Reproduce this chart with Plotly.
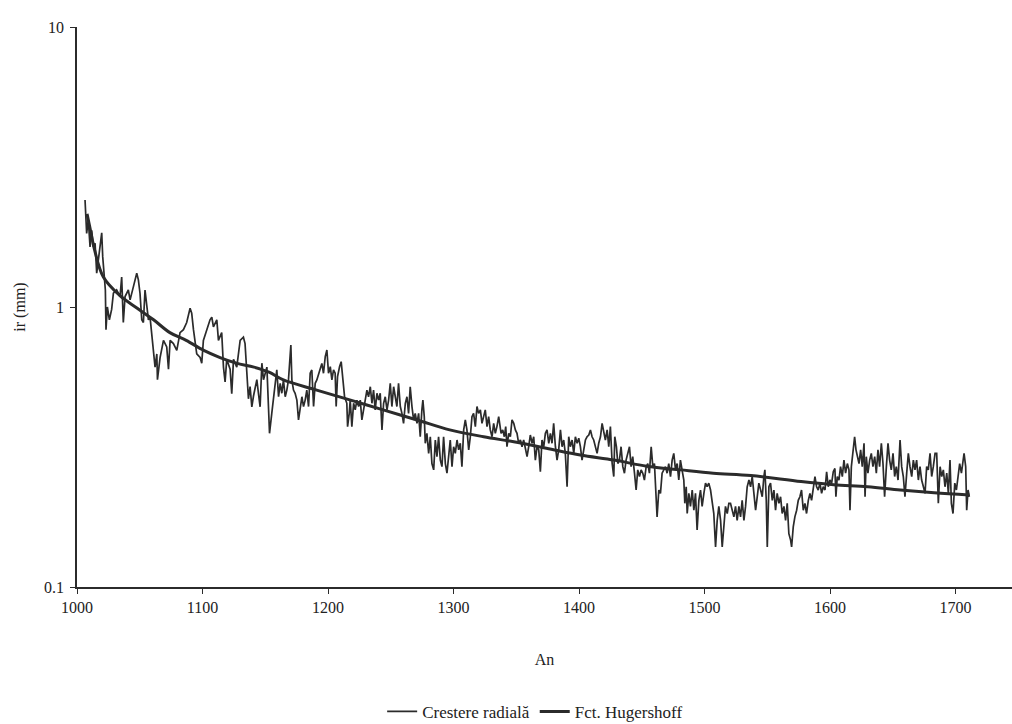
import plotly.graph_objects as go

# ---- Ring-width series (Crestere radiala), in four spans ----
years_1 = [1006.4,1007.7,1009.0,1010.4,1011.7,1013.0,1014.4,1015.7,1017.0,1019.7,
           1020.5,1021.8,1022.6,1023.1,1024.2,1025.8,1027.6,1029.0,1031.6,1034.3,
           1035.6,1036.9,1038.3,1040.9,1042.3,1044.9,1047.6,1048.9,1050.2,1051.6,
           1052.9,1054.2,1055.6,1056.9,1058.2,1059.5,1060.9,1062.2,1063.6,1064.1,
           1066.2,1068.9,1071.5,1072.9,1074.2,1076.8,1079.5,1082.1,1084.8,1087.4,
           1090.1,1091.4,1092.8,1095.4,1098.1,1099.4,1100.7,1103.4,1106.0,1107.4,
           1108.7,1111.4,1112.7,1115.3,1116.7,1118.0,1119.3,1122.0,1123.3,1124.7,
           1127.3,1130.0,1132.6,1133.9,1135.3,1136.6,1137.9,1139.3,1140.6,1143.3,
           1144.6,1145.9,1147.3,1148.6,1151.3]
ring_1 = [2.41,1.83,2.05,1.64,1.88,1.64,1.69,1.32,1.47,1.84,
          1.51,1.25,1.15,0.83,1.00,0.90,0.98,1.12,1.15,1.09,
          1.28,0.88,1.09,1.15,1.06,1.18,1.32,1.25,1.12,0.90,
          0.88,1.15,0.98,0.90,0.92,0.81,0.72,0.61,0.68,0.55,
          0.66,0.76,0.72,0.60,0.76,0.74,0.70,0.81,0.83,0.88,
          0.99,0.95,0.83,0.68,0.66,0.63,0.76,0.83,0.90,0.92,
          0.85,0.90,0.76,0.81,0.61,0.54,0.65,0.60,0.49,0.65,
          0.61,0.76,0.78,0.74,0.55,0.47,0.52,0.44,0.48,0.55,
          0.49,0.44,0.63,0.55,0.61]

years_2 = [1153.4,1155.2,1156.6,1157.9,1159.2,1160.6,1161.9,1163.2,1164.5,1165.9,
           1167.2,1168.5,1170.4,1171.2,1172.5,1173.8,1175.2,1176.5,1177.8,1179.2,
           1180.5,1181.8,1183.1,1184.5,1185.8,1187.1,1188.5,1189.8,1191.1,1192.5,
           1193.8,1195.1,1196.4,1197.8,1199.1,1200.4,1201.8,1203.1,1204.4,1205.7,
           1206.5,1207.6,1209.2,1210.5,1211.9,1213.2,1215.0,1215.6,1216.9,1217.7,
           1219.0,1220.4,1221.7,1223.0,1224.4,1225.7,1227.0,1228.3,1229.7,1231.0,
           1232.3,1233.7,1235.0,1236.3,1237.6,1239.0,1240.3,1241.6,1243.0,1244.3,
           1245.6,1247.0,1248.3,1249.6,1250.9,1252.3,1253.6,1254.9,1256.2,1257.6,
           1258.9,1260.2,1261.6,1262.9,1264.2,1265.5,1266.9,1268.2,1269.5,1270.9,
           1272.2,1273.5,1274.8,1275.6,1276.7,1277.5,1278.8,1280.2,1281.5,1282.8,
           1284.2,1285.5,1286.8,1288.1,1289.5,1290.8,1292.1,1293.5,1294.8,1296.1,
           1297.4,1298.8,1300.1,1301.4,1302.8,1304.1,1305.4,1306.7,1308.1,1309.4,
           1310.7,1312.1,1313.4,1314.7,1316.0,1317.4,1318.7,1320.0,1321.4,1322.7,
           1324.0,1325.3,1326.7,1328.0,1329.3,1330.7,1332.0,1333.3,1334.6,1336.0]
ring_2 = [0.354,0.417,0.478,0.519,0.596,0.478,0.534,0.492,0.549,0.478,
          0.505,0.549,0.732,0.549,0.505,0.492,0.465,0.395,0.441,0.478,
          0.441,0.465,0.505,0.441,0.580,0.596,0.441,0.534,0.549,0.580,
          0.612,0.629,0.580,0.665,0.702,0.580,0.612,0.549,0.596,0.580,
          0.441,0.564,0.612,0.638,0.549,0.478,0.453,0.374,0.417,0.465,
          0.374,0.453,0.429,0.465,0.441,0.465,0.395,0.429,0.465,0.505,
          0.478,0.519,0.453,0.505,0.429,0.492,0.465,0.492,0.364,0.453,
          0.478,0.429,0.465,0.534,0.441,0.519,0.478,0.441,0.534,0.441,
          0.417,0.384,0.453,0.478,0.417,0.519,0.441,0.395,0.417,0.384,
          0.417,0.344,0.429,0.465,0.406,0.326,0.354,0.300,0.344,0.276,
          0.262,0.335,0.292,0.344,0.284,0.269,0.344,0.276,0.255,0.292,
          0.335,0.269,0.317,0.300,0.335,0.309,0.326,0.269,0.364,0.395,
          0.364,0.309,0.344,0.406,0.417,0.374,0.441,0.417,0.429,0.384,
          0.406,0.429,0.374,0.406,0.364,0.344,0.384,0.354,0.374,0.406]

years_3 = [1337.9,1339.2,1340.5,1341.6,1342.6,1344.0,1345.3,1346.6,1348.0,1349.3,
           1350.6,1351.9,1353.3,1354.6,1355.9,1357.3,1358.6,1359.9,1361.2,1362.6,
           1363.9,1365.2,1366.6,1367.9,1369.2,1370.5,1371.9,1373.2,1374.5,1375.9,
           1377.2,1378.5,1379.8,1381.2,1382.5,1383.8,1385.2,1386.5,1387.8,1389.1,
           1390.5,1391.8,1393.1,1394.5,1395.8,1397.1,1398.5,1399.8,1401.1,1402.4,
           1403.8,1405.1,1406.4,1407.8,1409.1,1410.4,1411.7,1413.1,1414.4,1415.7,
           1417.1,1418.4,1419.7,1421.0,1422.4,1423.7,1425.0,1426.4,1427.7,1428.5,
           1429.8,1430.9,1432.2,1433.5,1434.9,1436.2,1437.5,1438.9,1440.2,1441.5,
           1442.8,1444.2,1445.5,1446.8,1448.2,1449.5,1450.8,1452.1,1453.5,1454.8,
           1456.1,1457.5,1458.8,1460.1,1461.4,1462.2,1463.6,1464.9,1466.2,1467.6,
           1468.9,1470.2,1471.5,1472.9,1474.2,1475.5,1476.9,1478.2,1479.5,1480.8,
           1482.2,1483.5,1484.3,1485.4,1486.2,1487.5,1488.8,1490.2,1491.5,1492.8,
           1494.1,1495.5,1496.8,1498.1,1499.5,1500.8,1502.1,1503.4,1504.8,1506.1,
           1507.4,1508.8,1510.1,1511.4,1512.8,1514.1,1515.4,1516.7,1518.1,1519.4]
ring_3 = [0.354,0.364,0.344,0.374,0.317,0.354,0.344,0.395,0.384,0.364,
          0.354,0.326,0.335,0.317,0.335,0.309,0.292,0.317,0.349,0.326,
          0.344,0.284,0.317,0.309,0.258,0.335,0.317,0.354,0.364,0.326,
          0.354,0.326,0.384,0.317,0.284,0.309,0.364,0.317,0.335,0.300,
          0.228,0.344,0.317,0.335,0.300,0.344,0.326,0.340,0.317,0.284,
          0.317,0.335,0.344,0.349,0.364,0.344,0.335,0.317,0.300,0.326,
          0.344,0.384,0.354,0.335,0.364,0.317,0.374,0.276,0.248,0.344,
          0.317,0.276,0.284,0.317,0.269,0.255,0.284,0.300,0.317,0.269,
          0.292,0.255,0.222,0.262,0.248,0.262,0.255,0.241,0.269,0.276,
          0.255,0.317,0.269,0.276,0.216,0.178,0.222,0.216,0.255,0.262,
          0.269,0.255,0.276,0.248,0.284,0.300,0.262,0.276,0.241,0.284,
          0.262,0.241,0.199,0.228,0.183,0.216,0.194,0.222,0.188,0.216,
          0.160,0.204,0.222,0.194,0.216,0.235,0.228,0.235,0.222,0.204,
          0.183,0.139,0.173,0.194,0.173,0.139,0.164,0.194,0.183,0.199]

years_4 = [1520.7,1522.1,1523.4,1524.7,1526.0,1527.4,1528.7,1530.0,1531.4,1532.7,
           1534.0,1535.4,1536.7,1538.0,1539.3,1540.7,1542.0,1543.3,1544.7,1546.0,
           1547.3,1548.1,1549.2,1550.0,1551.3,1552.6,1554.0,1555.3,1556.6,1557.9,
           1559.3,1560.6,1561.9,1563.3,1564.6,1565.9,1567.2,1568.6,1569.4,1570.7,
           1572.0,1573.4,1574.7,1576.0,1577.3,1578.7,1580.0,1581.3,1582.7,1584.0,
           1585.3,1586.7,1588.0,1589.3,1590.6,1592.0,1593.3,1594.6,1596.0,1597.3,
           1598.6,1599.9,1601.3,1602.6,1603.9,1604.7,1605.8,1607.1,1608.4,1609.8,
           1611.1,1612.4,1613.8,1615.1,1615.9,1617.0,1618.3,1619.6,1620.7,1621.7,
           1623.1,1624.4,1625.7,1627.1,1627.9,1628.9,1630.2,1631.6,1632.9,1634.2,
           1635.6,1636.9,1638.2,1639.5,1640.9,1642.2,1643.5,1644.9,1646.2,1647.5,
           1648.8,1650.2,1651.5,1652.8,1654.2,1655.8,1657.1,1658.4,1659.7,1661.1,
           1662.4,1663.7,1665.1,1666.4,1667.7,1669.0,1670.4,1671.7,1673.0,1674.4,
           1675.7,1677.0,1678.3,1679.7,1681.0,1682.3,1683.7,1685.0,1686.3,1687.7,
           1689.0,1690.3,1691.6,1693.0,1694.3,1695.6,1696.7,1698.0,1699.4,1700.7,
           1702.0,1703.3,1704.7,1706.0,1706.8,1708.1,1708.9,1710.0,1711.0]
ring_4 = [0.199,0.188,0.178,0.194,0.173,0.194,0.178,0.204,0.173,0.194,
          0.228,0.241,0.228,0.248,0.222,0.188,0.210,0.235,0.222,0.210,
          0.248,0.262,0.204,0.139,0.228,0.235,0.204,0.222,0.188,0.216,
          0.199,0.210,0.183,0.194,0.173,0.199,0.155,0.147,0.139,0.164,
          0.178,0.188,0.204,0.210,0.222,0.188,0.199,0.183,0.204,0.216,
          0.204,0.228,0.248,0.228,0.222,0.235,0.216,0.228,0.222,0.258,
          0.228,0.241,0.235,0.258,0.265,0.210,0.248,0.241,0.269,0.248,
          0.284,0.255,0.276,0.262,0.188,0.269,0.300,0.344,0.309,0.292,
          0.276,0.309,0.269,0.326,0.210,0.292,0.255,0.284,0.300,0.269,
          0.292,0.255,0.309,0.269,0.326,0.276,0.210,0.269,0.326,0.284,
          0.262,0.300,0.248,0.269,0.241,0.335,0.269,0.248,0.210,0.255,
          0.300,0.269,0.248,0.284,0.262,0.284,0.241,0.269,0.241,0.228,
          0.216,0.269,0.262,0.300,0.248,0.269,0.300,0.300,0.199,0.269,
          0.248,0.262,0.228,0.255,0.216,0.284,0.199,0.183,0.235,0.222,
          0.255,0.276,0.255,0.292,0.300,0.269,0.188,0.222,0.210]

# ---- Hugershoff fitted curve ----
fit_years = [1008, 1010, 1014, 1021, 1034, 1048, 1061, 1074, 1087, 1101, 1114, 1127,
             1141, 1153, 1164, 1191, 1218, 1244, 1271, 1297, 1324, 1348, 1374, 1401,
             1428, 1454, 1481, 1507, 1537, 1577, 1603, 1630, 1656, 1683, 1711]
fit_vals = [2.15, 1.95, 1.60, 1.28, 1.10, 0.99, 0.90, 0.81, 0.76, 0.70, 0.66, 0.63,
            0.61, 0.585, 0.55, 0.505, 0.465, 0.429, 0.395, 0.364, 0.344, 0.33, 0.313, 0.296,
            0.284, 0.270, 0.262, 0.255, 0.25, 0.238, 0.232, 0.228, 0.222, 0.217, 0.213]

# ---- Axis labels / ticks ----
x_ticks = [1000, 1100, 1200, 1300, 1400, 1500, 1600, 1700]
y_tickvals = [0.1, 1, 10]
y_ticktext = ["0.1", "1", "10"]
x_title = "An"
y_title = "ir (mm)"
series_names = ["Crestere radială", "Fct. Hugershoff"]

years = years_1 + years_2 + years_3 + years_4
ring = ring_1 + ring_2 + ring_3 + ring_4
n = min(len(years), len(ring))
years, ring = years[:n], ring[:n]

FONT = "Liberation Serif"
INK = "#2b2b2b"

fig = go.Figure()
fig.add_trace(go.Scatter(x=years, y=ring, mode="lines", name=series_names[0],
                         line=dict(color=INK, width=1.7)))
fig.add_trace(go.Scatter(x=fit_years, y=fit_vals, mode="lines", name=series_names[1],
                         line=dict(color=INK, width=3, shape="spline", smoothing=1.0)))

fig.update_layout(
    width=1012, height=724,
    margin=dict(l=77, r=0, t=27, b=137, autoexpand=False),
    paper_bgcolor="white", plot_bgcolor="white",
    font=dict(family=FONT, size=16, color="#222"),
    showlegend=True,
    legend=dict(orientation="h", x=0.49, xanchor="center", y=-0.223, yanchor="middle",
                font=dict(family=FONT, size=17, color="#222"), bgcolor="rgba(0,0,0,0)",
                itemwidth=30, tracegroupgap=0),
)
fig.update_xaxes(
    range=[1000, 1745], tickvals=x_ticks, ticks="outside", ticklen=5, tickwidth=1.2,
    tickcolor=INK, showline=True, linecolor=INK, linewidth=2, showgrid=False,
    zeroline=False, title=dict(text=x_title, standoff=39, font=dict(size=16)),
    tickfont=dict(size=16),
)
fig.update_yaxes(
    type="log", range=[-1, 1], tickvals=y_tickvals, ticktext=y_ticktext,
    ticks="outside", ticklen=5, tickwidth=1.2, tickcolor=INK,
    showline=True, linecolor=INK, linewidth=1.6, showgrid=False, zeroline=False,
    title=dict(text=y_title, standoff=14, font=dict(size=16)), tickfont=dict(size=16),
    ticklabelstandoff=3,
)

fig.write_html("out.html", config={"displayModeBar": False},
               post_script="document.body.style.margin='0';")
